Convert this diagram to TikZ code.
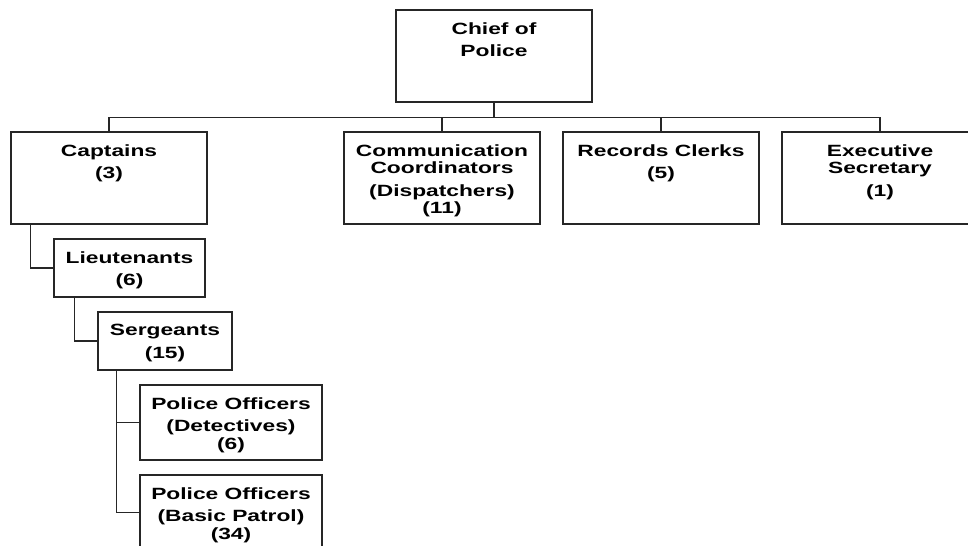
\documentclass[tikz,border=0pt]{standalone}
\usepackage{fontspec}
\newfontfamily\unitfont{Liberation Sans}[FakeStretch=1.4]

\tikzset{
    unit/.style={draw=black!85, line width=0.8pt, inner sep=0pt,
        minimum width=147pt, minimum height=69pt},
    unitname/.style={anchor=north, align=center, inner sep=0pt, yshift=-9.4pt,
        font=\unitfont\bfseries\fontsize{12.2}{13.3}\selectfont},
    link/.style={draw=black!85, line width=0.8pt}
}

\begin{document}
\begin{tikzpicture}[x=0.75pt, y=-0.75pt]
    \clip (0,0) rectangle (968,546);

    % top of the chart
    \node[unit, label={[unitname]north:{Chief of\\[3.5pt]Police}}] (chief) at (494,56) {};

    % second row
    \node[unit, label={[unitname]north:{Captains\\[3.5pt](3)}}] (capt) at (109,178) {};
    \node[unit, label={[unitname]north:{Communication\\Coordinators\\[3.5pt](Dispatchers)\\(11)}}] (comm) at (442,178) {};
    \node[unit, label={[unitname]north:{Records Clerks\\[3.5pt](5)}}] (recs) at (661,178) {};
    \node[unit, label={[unitname]north:{Executive\\Secretary\\[3.5pt](1)}}] (exec) at (880,178) {};

    % chain of command below the captains
    \node[unit, minimum width=113.25pt, minimum height=43.5pt,
        label={[unitname]north:{Lieutenants\\[3.5pt](6)}}] (lieut) at (129.5,268) {};
    \node[unit, minimum width=100.5pt, minimum height=43.5pt,
        label={[unitname]north:{Sergeants\\[3.5pt](15)}}] (sgts) at (165,341) {};
    \node[unit, minimum width=136.5pt, minimum height=56.25pt,
        label={[unitname]north:{Police Officers\\[3.5pt](Detectives)\\(6)}}] (detect) at (231,422.5) {};
    \node[unit, minimum width=136.5pt, minimum height=56.25pt,
        label={[unitname]north:{Police Officers\\[3.5pt](Basic Patrol)\\(34)}}] (patrol) at (231,512.5) {};

    % links
    \foreach \child in {capt,comm,recs,exec}
        \draw[link] (chief.south) -- ++(0,15) -| (\child.north);
    \draw[link] ([xshift=15pt]capt.south west) |- (lieut.west);
    \draw[link] ([xshift=15.75pt]lieut.south west) |- (sgts.west);
    \draw[link] ([xshift=14.25pt]sgts.south west) |- (detect.west);
    \draw[link] ([xshift=14.25pt]sgts.south west) |- (patrol.west);
\end{tikzpicture}
\end{document}
